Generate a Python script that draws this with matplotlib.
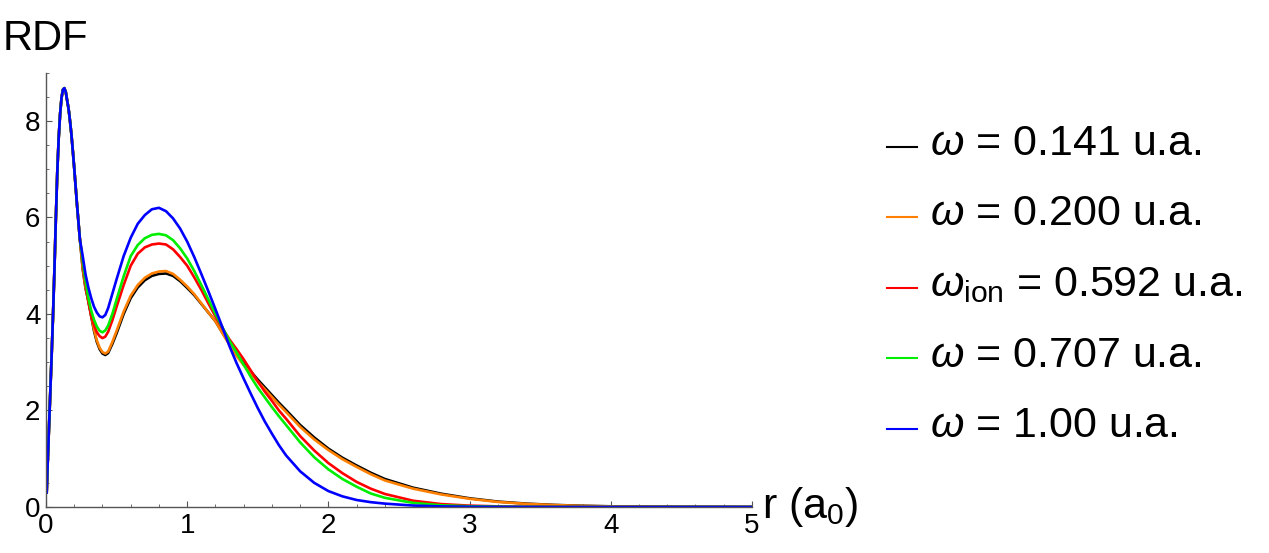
import matplotlib
matplotlib.use('Agg')
import matplotlib.pyplot as plt
from matplotlib.ticker import MultipleLocator

plt.rcParams['font.family'] = ['Liberation Sans', 'DejaVu Sans']
plt.rcParams['mathtext.fontset'] = 'custom'
plt.rcParams['mathtext.rm'] = 'Liberation Sans'
plt.rcParams['mathtext.it'] = 'Liberation Sans:italic'

# Radios (a0): tramo comun del primer pico y tramo donde las curvas se separan
r_comun = [0.005, 0.01, 0.02, 0.03, 0.04, 0.05, 0.06, 0.07, 0.08, 0.09, 0.10, 0.11,
           0.12, 0.13, 0.14, 0.15, 0.16, 0.17, 0.18, 0.19, 0.20, 0.22, 0.24]
rdf_comun = [0.3, 0.75, 1.55, 2.35, 3.15, 4.0, 4.95, 6.0, 6.95, 7.65, 8.15, 8.48,
             8.65, 8.68, 8.6, 8.42, 8.25, 8.0, 7.72, 7.38, 7.02, 6.25, 5.55]

r_resto = [0.26, 0.28, 0.30, 0.32, 0.34, 0.36, 0.38, 0.40, 0.42, 0.44,
           0.47, 0.50, 0.55, 0.60, 0.65, 0.70, 0.75, 0.80, 0.85, 0.90,
           0.95, 1.00, 1.05, 1.10, 1.15, 1.20, 1.25, 1.30, 1.35, 1.40,
           1.45, 1.50, 1.55, 1.60, 1.65, 1.70, 1.80, 1.90, 2.00, 2.10,
           2.20, 2.30, 2.40, 2.60, 2.80, 3.00, 3.20, 3.40, 3.60, 3.80,
           4.00, 4.50, 5.00]

rdf_0141 = [4.93, 4.53, 4.27, 3.95, 3.65, 3.42, 3.27, 3.18, 3.15, 3.19,
            3.38, 3.6, 4.0, 4.33, 4.55, 4.7, 4.79, 4.83, 4.84, 4.79,
            4.68, 4.54, 4.39, 4.21, 4.03, 3.85, 3.61, 3.38, 3.16, 2.98,
            2.81, 2.64, 2.48, 2.32, 2.16, 2.01, 1.7, 1.44, 1.21, 1.02,
            0.86, 0.71, 0.58, 0.4, 0.275, 0.18, 0.112, 0.07, 0.043, 0.025,
            0.014, 0.003, 0.0]
rdf_0200 = [4.95, 4.55, 4.3, 3.98, 3.68, 3.45, 3.3, 3.21, 3.18, 3.22,
            3.42, 3.65, 4.05, 4.38, 4.6, 4.75, 4.84, 4.88, 4.89, 4.83,
            4.71, 4.57, 4.41, 4.22, 4.03, 3.85, 3.6, 3.36, 3.13, 2.94,
            2.77, 2.6, 2.44, 2.28, 2.12, 1.97, 1.66, 1.4, 1.18, 0.99,
            0.83, 0.68, 0.55, 0.38, 0.26, 0.17, 0.105, 0.065, 0.04, 0.022,
            0.012, 0.003, 0.0]
rdf_0592 = [5.05, 4.6, 4.25, 3.97, 3.77, 3.62, 3.54, 3.5, 3.53, 3.63,
            3.87, 4.15, 4.6, 5.0, 5.25, 5.38, 5.44, 5.46, 5.44, 5.34,
            5.18, 5.0, 4.76, 4.5, 4.22, 3.95, 3.7, 3.47, 3.27, 3.06,
            2.83, 2.6, 2.39, 2.2, 2.0, 1.83, 1.47, 1.17, 0.91, 0.7,
            0.52, 0.38, 0.27, 0.13, 0.06, 0.028, 0.013, 0.006, 0.003, 0.001,
            0.0, 0.0, 0.0]
rdf_0707 = [5.1, 4.68, 4.33, 4.07, 3.88, 3.74, 3.65, 3.62, 3.66, 3.76,
            4.0, 4.3, 4.78, 5.2, 5.43, 5.57, 5.64, 5.66, 5.63, 5.53,
            5.36, 5.15, 4.89, 4.6, 4.3, 4.0, 3.72, 3.44, 3.2, 2.95,
            2.7, 2.47, 2.27, 2.07, 1.88, 1.7, 1.34, 1.03, 0.78, 0.58,
            0.42, 0.28, 0.19, 0.085, 0.035, 0.015, 0.006, 0.002, 0.001, 0.0,
            0.0, 0.0, 0.0]
rdf_1000 = [5.2, 4.82, 4.55, 4.33, 4.15, 4.03, 3.95, 3.93, 3.98, 4.12,
            4.42, 4.72, 5.2, 5.58, 5.87, 6.05, 6.17, 6.2, 6.13, 5.98,
            5.77, 5.5, 5.18, 4.83, 4.47, 4.1, 3.72, 3.33, 2.98, 2.66,
            2.35, 2.05, 1.77, 1.52, 1.28, 1.07, 0.74, 0.5, 0.33, 0.22,
            0.145, 0.1, 0.07, 0.03, 0.012, 0.005, 0.002, 0.001, 0.0, 0.0,
            0.0, 0.0, 0.0]

etiquetas = [r'$\omega$ = 0.141 u.a.', r'$\omega$ = 0.200 u.a.',
             r'$\omega_{\mathrm{ion}}$ = 0.592 u.a.', r'$\omega$ = 0.707 u.a.',
             r'$\omega$ = 1.00 u.a.']
colores = ['black', '#ff8000', '#ff0000', '#00ee00', '#0000ff']
series = [rdf_0141, rdf_0200, rdf_0592, rdf_0707, rdf_1000]

r = r_comun + r_resto

fig = plt.figure(figsize=(12.69, 5.53), dpi=100)
ax = fig.add_axes([0.03625, 0.0832, 0.5563, 0.7853])

for y, c, lab in zip(series, colores, etiquetas):
    ax.plot(r, rdf_comun + y, color=c, lw=1.9, label=lab)

ax.set_xlim(0, 5)
ax.set_ylim(0, 9)
ax.xaxis.set_major_locator(MultipleLocator(1))
ax.xaxis.set_minor_locator(MultipleLocator(0.2))
ax.yaxis.set_major_locator(MultipleLocator(2))
ax.yaxis.set_minor_locator(MultipleLocator(0.5))

gris = '#555555'
for lado in ['top', 'right']:
    ax.spines[lado].set_visible(False)
for lado in ['left', 'bottom']:
    ax.spines[lado].set_color(gris)
    ax.spines[lado].set_linewidth(1.0)
ax.tick_params(which='both', direction='in', color=gris, labelsize=20, pad=4)
ax.tick_params(which='major', length=4.5)
ax.tick_params(which='minor', length=2.5)

ax.text(1.014, 0.0, r'r (a$_0$)', transform=ax.transAxes, fontsize=31,
        ha='left', va='center')
fig.text(0.002, 0.9096, 'RDF', fontsize=30, ha='left', va='baseline')

leg = ax.legend(loc='center left', bbox_to_anchor=(0.699, 0.4846),
                bbox_transform=fig.transFigure, frameon=False, fontsize=31,
                handlelength=0.7, handletextpad=0.3, labelspacing=0.71,
                borderpad=0, borderaxespad=0)
# las muestras de linea van cerca de la linea base del texto
for linea in leg.get_lines():
    linea.set_linewidth(1.5)
    linea.set_ydata([v - 5 for v in linea.get_ydata()])

fig.savefig('out.png', dpi=100)
